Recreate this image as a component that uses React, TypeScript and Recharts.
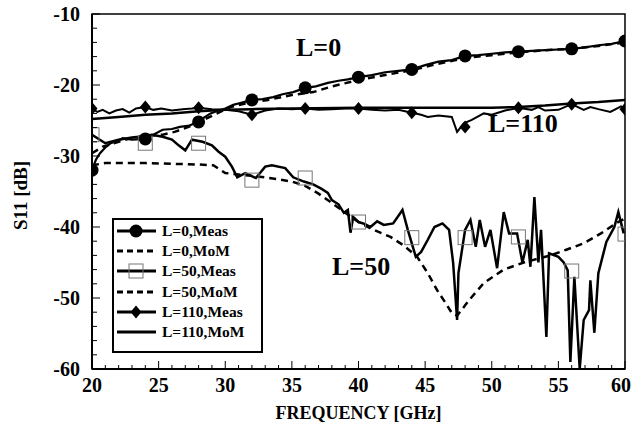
import React from 'react';
import {
  ComposedChart,
  Line,
  Scatter,
  XAxis,
  YAxis,
  ReferenceArea,
  Legend,
  Label
} from 'recharts';

// frequency [GHz], S11 [dB]
const l0Meas = [
  [20, -32], [20.3, -30.5], [20.6, -29.6], [21, -28.8], [21.4, -28.2], [22, -27.8], [22.3, -27.5],
  [23, -27.7], [24, -27.6], [24.6, -27], [25.3, -26.3], [26, -26.2], [26.6, -25.9], [27.3, -25.7],
  [28, -25.2], [28.4, -24.6], [28.9, -24], [29.5, -23.6], [30, -23.3], [30.6, -22.8], [31.2, -22.5],
  [32, -22.1], [32.8, -22], [33.6, -21.7], [34.3, -21.3], [35.1, -21], [36, -20.4], [36.8, -20.2],
  [37.7, -19.7], [38.5, -19.4], [39.2, -19.2], [40, -18.9], [41, -18.6], [42, -18.2], [43, -18],
  [44, -17.8], [45, -17.2], [46, -16.7], [47, -16.5], [48, -15.9], [49, -15.8], [50, -15.6],
  [51, -15.4], [52, -15.3], [53, -15.2], [54, -15.1], [55, -15], [56, -14.9], [57, -14.7],
  [58, -14.4], [59, -14.2], [60, -13.8]
];
const l0Mom = [
  [20, -29.6], [20.8, -28.7], [22, -28], [22.9, -27.5], [24, -27.2], [25.3, -27], [26.2, -26.6],
  [27.1, -26], [28, -25.3], [28.6, -24.7], [29.5, -23.9], [30.4, -23.1], [31.5, -22.6], [33.2, -22.1],
  [35, -21.4], [36.6, -21], [38, -20.2], [40, -19.3], [42, -18.6], [44, -17.9], [46, -17], [48, -16.2],
  [50, -15.8], [52, -15.4], [54, -15.1], [56, -14.9], [58, -14.5], [60, -14]
];
const l0Marks = [
  [20, -32], [24, -27.6], [28, -25.2], [32, -22.1], [36, -20.4], [40, -18.9],
  [44, -17.8], [48, -15.9], [52, -15.3], [56, -14.9], [60, -13.8]
];

const l50Meas = [
  [20, -27], [20.5, -27.6], [21, -28.2], [22, -27.7], [23, -27.4], [23.5, -27.3], [24.5, -27],
  [25.3, -27.3], [26, -27.7], [26.5, -28.5], [27, -29.2], [27.5, -27.7], [28.3, -28], [29, -28.5],
  [29.5, -29.4], [30, -30.1], [30.5, -31.5], [30.9, -33], [31.5, -32.4], [32.3, -33.1], [33, -31.5],
  [33.5, -31.3], [34.5, -31.7], [35.1, -33], [35.9, -33.6], [36.6, -34],
  [37.2, -34.6], [37.7, -35.2], [38, -36.2], [38.5, -36.8], [38.9, -38], [39.2, -37.6], [39.4, -40.8],
  [39.6, -38.6], [40, -39.3], [40.5, -39.6], [40.9, -40], [41.4, -39.2], [41.9, -39.7], [42.6, -39.5],
  [43.3, -37.6], [43.7, -40.4], [44.3, -44.2], [44.7, -43.5], [45.2, -41.8], [45.7, -40], [46.3, -39.5],
  [46.8, -40.4], [47.1, -45], [47.4, -53.1], [47.5, -46.5], [48, -40.4], [48.4, -39], [48.8, -42.8],
  [49.1, -39], [49.5, -42.8], [49.9, -40.4], [50.4, -45.8], [50.9, -37.9], [51.3, -40.9], [51.9, -40.9],
  [52.3, -45], [52.7, -41.8], [52.9, -45.6], [53.2, -35.8], [53.5, -45], [53.7, -40.4], [54.1, -55.5],
  [54.3, -43.7], [55, -44.2], [55.4, -45], [55.7, -46.1], [55.9, -59], [56.2, -47], [56.6, -60],
  [56.9, -53.1], [57.3, -51.7], [57.4, -47.5], [57.7, -54.9], [58, -46.5], [58.6, -42.1], [59.2, -40],
  [59.5, -37.9], [59.9, -40.9]
];
const l50Mom = [
  [20, -31.3], [21, -31], [22, -31], [24, -31], [26, -31.1], [28, -31.2], [29.1, -31.3], [30, -32.4],
  [31, -32.6], [32, -32.8], [33, -33], [34, -33.3], [35, -33.6], [36, -34.2], [37, -35.3], [38, -36.6],
  [39, -38], [40, -39.3], [41, -40.3], [42.4, -41.4], [43.4, -42.6], [44.4, -44.2], [45.2, -46.5],
  [45.9, -48.9], [46.5, -50.6], [47, -52.1], [47.4, -52.5], [48.3, -50.3], [49.4, -47.9], [50.9, -46],
  [52.4, -45], [54.4, -44], [55.6, -43.2], [56.9, -42.3], [58.2, -40.9], [59.4, -39.4], [60, -38.8]
];
const l50Marks = [
  [20, -27], [24, -28.2], [28, -28.2], [32, -33.4], [36, -33.1], [40, -39.3],
  [44, -41.5], [48, -41.5], [52, -41.4], [56, -46.2], [60, -41]
];

const l110Meas = [
  [20, -23.3], [20.4, -23.8], [20.8, -23.5], [21.3, -24], [21.8, -23.6], [22.3, -23.4], [22.8, -23.9],
  [23.3, -23.3], [24, -23.1], [24.6, -23.5], [25.2, -23.3], [26, -23.6], [26.8, -23.4], [27.5, -23.3],
  [28, -23.2], [29, -23.4], [30, -23.5], [31, -23.7], [32, -24.2], [33, -23.6], [34, -23.3], [35, -23.4],
  [36, -23.3], [37, -23.5], [38, -23.4], [39, -23.3], [40, -23.3], [41, -23.5], [42, -23.6], [43, -23.5],
  [44, -23.9], [44.7, -24.2], [45.2, -24.5], [46, -24.3], [47, -24.5], [47.4, -26.6], [47.9, -25.4],
  [48.5, -24.9], [49.4, -24], [50, -24.2], [51, -23.6], [52, -23.2], [53, -23.5], [53.5, -23.1],
  [54, -23.6], [55, -23.5], [56, -22.7], [56.9, -23.5], [57.4, -23.1], [58, -23.4], [58.9, -23.8],
  [59.7, -23], [60, -23.4]
];
const l110Mom = [
  [20, -24.8], [22, -24.5], [24, -24.2], [26, -24], [28, -23.7], [30, -23.5], [32, -23.4], [35, -23.3],
  [40, -23.2], [45, -23.2], [50, -23.2], [52, -23.1], [54, -22.9], [56, -22.6], [58, -22.4], [60, -22.1]
];
const l110Marks = [
  [20, -23.3], [24, -23.1], [28, -23.2], [32, -24.2], [36, -23.3], [40, -23.3],
  [44, -23.9], [48, -25.9], [52, -23.2], [56, -22.7], [60, -23.4]
];

const legendNames = ['L=0,Meas', 'L=0,MoM', 'L=50,Meas', 'L=50,MoM', 'L=110,Meas', 'L=110,MoM'];
const xTicks = [20, 21, 22, 23, 24, 25, 26, 27, 28, 29, 30, 31, 32, 33, 34, 35, 36, 37, 38, 39, 40,
  41, 42, 43, 44, 45, 46, 47, 48, 49, 50, 51, 52, 53, 54, 55, 56, 57, 58, 59, 60];
const yTicks = [-60, -58, -56, -54, -52, -50, -48, -46, -44, -42, -40, -38, -36, -34, -32, -30,
  -28, -26, -24, -22, -20, -18, -16, -14, -12, -10];

const pts = (arr: number[][]) => arr.map(([f, v]) => ({ f, v }));

const FONT = '"Liberation Serif", "Times New Roman", serif';

const Dot = (p: any) => <circle cx={p.cx} cy={p.cy} r={6.5} fill="#000" />;
const Square = (p: any) => (
  <rect x={p.cx - 7} y={p.cy - 7} width={14} height={14} fill="none" stroke="#777" strokeWidth={1} />
);
const Diamond = (p: any) => (
  <path d={`M${p.cx},${p.cy - 6.5}L${p.cx + 5.5},${p.cy}L${p.cx},${p.cy + 6.5}L${p.cx - 5.5},${p.cy}Z`} fill="#000" />
);

const YTick = (props: any) => {
  const { x, y, payload } = props;
  const major = payload.value % 10 === 0;
  const ax = x + 12;
  return (
    <g>
      <line x1={ax} x2={ax + (major ? 8 : 5)} y1={y} y2={y} stroke="#000" strokeWidth={1} />
      {major && (
        <text x={x} y={y} dy="0.36em" textAnchor="end" fontFamily={FONT} fontWeight="bold" fontSize={20} fill="#000">
          {payload.value}
        </text>
      )}
    </g>
  );
};

const XTick = (props: any) => {
  const { x, y, payload } = props;
  const major = payload.value % 5 === 0;
  const ay = y - 9;
  const tx = payload.value === 60 ? x - 4 : x;
  return (
    <g>
      <line x1={x} x2={x} y1={ay} y2={ay - (major ? 8 : 4)} stroke="#000" strokeWidth={1} />
      {major && (
        <text x={tx} y={y} dy="0.72em" textAnchor="middle" fontFamily={FONT} fontWeight="bold" fontSize={20} fill="#000">
          {payload.value}
        </text>
      )}
    </g>
  );
};

const LegendBox = () => (
  <div style={{ border: '2px solid #000', background: '#fff', width: 147, height: 130, paddingTop: 1, boxSizing: 'content-box' }}>
    {legendNames.map((name, i) => (
      <div key={name} style={{ height: 20.2, display: 'flex', alignItems: 'center' }}>
        <svg width={48} height={20} style={{ flex: 'none' }}>
          <line x1={3} x2={42} y1={10} y2={10} stroke="#000" strokeWidth={3} strokeDasharray={i === 1 || i === 3 ? '6 4' : undefined} />
          {i === 0 && <circle cx={22} cy={10} r={6.5} fill="#000" />}
          {i === 2 && <rect x={15} y={3} width={14} height={14} fill="none" stroke="#777" />}
          {i === 4 && <path d="M22,3.5L27.5,10L22,16.5L16.5,10Z" fill="#000" />}
        </svg>
        <span style={{ fontFamily: FONT, fontWeight: 'bold', fontSize: 15.5, color: '#000', whiteSpace: 'nowrap' }}>{name}</span>
      </div>
    ))}
  </div>
);

export default function App() {
  return (
    <div style={{ position: 'absolute', left: 0, top: 0, width: 632, height: 431, background: '#fff' }}>
      <ComposedChart width={632} height={431} margin={{ top: 14, right: 7, left: 0, bottom: 22 }}>
        <XAxis
          type="number"
          dataKey="f"
          domain={[20, 60]}
          ticks={xTicks}
          interval={0}
          allowDataOverflow
          height={40}
          tickSize={0}
          tickMargin={9}
          tickLine={false}
          axisLine={{ stroke: '#000', strokeWidth: 2 }}
          tick={<XTick />}
        >
          <Label value="FREQUENCY [GHz]" position="insideBottom" offset={-10}
            style={{ fontFamily: FONT, fontWeight: 'bold', fontSize: 18, fill: '#000' }} />
        </XAxis>
        <YAxis
          type="number"
          domain={[-60, -10]}
          ticks={yTicks}
          interval={0}
          allowDataOverflow
          width={92}
          tickSize={0}
          tickMargin={12}
          tickLine={false}
          axisLine={{ stroke: '#000', strokeWidth: 2 }}
          tick={<YTick />}
        >
          <Label value="S11 [dB]" angle={-90} position="insideLeft" offset={20} dy={4}
            style={{ fontFamily: FONT, fontWeight: 'bold', fontSize: 19, fill: '#000', textAnchor: 'middle' }} />
        </YAxis>
        <ReferenceArea x1={20} x2={60} y1={-60} y2={-10} fill="none" stroke="#000" strokeWidth={1.5} />

        <Line data={pts(l50Mom)} dataKey="v" stroke="#000" strokeWidth={2.5} strokeDasharray="7 5" dot={false} isAnimationActive={false} />
        <Line data={pts(l0Mom)} dataKey="v" stroke="#000" strokeWidth={2.5} strokeDasharray="7 5" dot={false} isAnimationActive={false} />
        <Line data={pts(l110Mom)} dataKey="v" stroke="#000" strokeWidth={2.5} dot={false} isAnimationActive={false} />
        <Line data={pts(l50Meas)} dataKey="v" stroke="#000" strokeWidth={2.5} dot={false} isAnimationActive={false} />
        <Line data={pts(l110Meas)} dataKey="v" stroke="#000" strokeWidth={2} dot={false} isAnimationActive={false} />
        <Line data={pts(l0Meas)} dataKey="v" stroke="#000" strokeWidth={2.2} dot={false} isAnimationActive={false} />

        <Scatter data={pts(l50Marks)} dataKey="v" shape={Square} isAnimationActive={false} />
        <Scatter data={pts(l110Marks)} dataKey="v" shape={Diamond} isAnimationActive={false} />
        <Scatter data={pts(l0Marks)} dataKey="v" shape={Dot} isAnimationActive={false} />

        <Legend
          layout="horizontal"
          verticalAlign="middle"
          align="center"
          content={<LegendBox />}
          wrapperStyle={{ left: 112, top: 218, width: 151, height: 134 }}
        />
      </ComposedChart>
      <div style={{ position: 'absolute', left: 296, top: 33, fontFamily: FONT, fontWeight: 'bold', fontSize: 26 }}>L=0</div>
      <div style={{ position: 'absolute', left: 488, top: 109, fontFamily: FONT, fontWeight: 'bold', fontSize: 26 }}>L=110</div>
      <div style={{ position: 'absolute', left: 332, top: 252, fontFamily: FONT, fontWeight: 'bold', fontSize: 26 }}>L=50</div>
    </div>
  );
}
